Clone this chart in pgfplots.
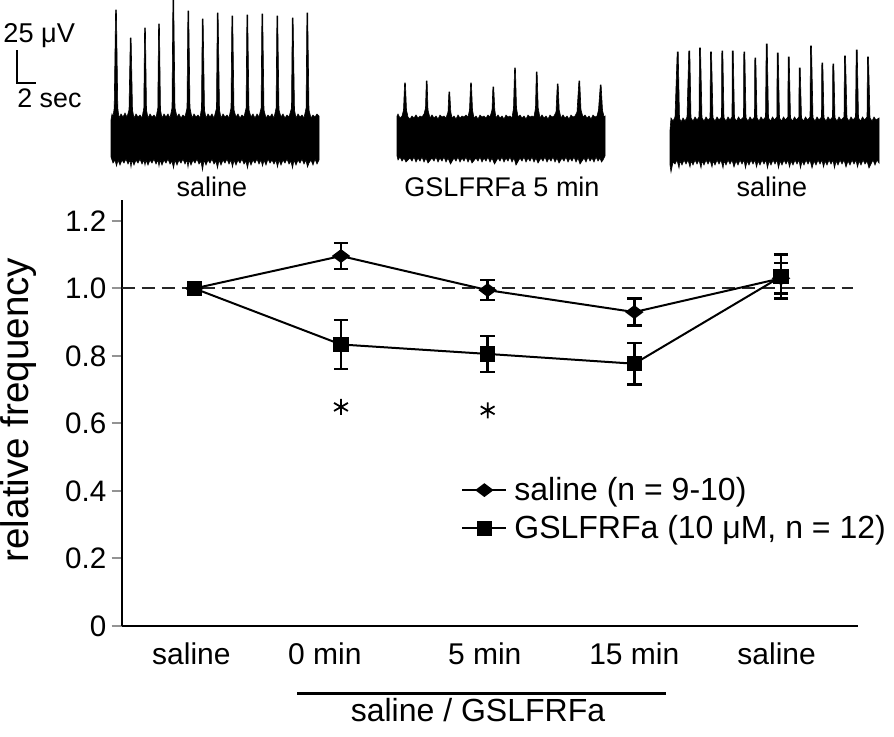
\documentclass[border=0pt]{standalone}
\usepackage{pgfplots}
\pgfplotsset{compat=1.18}
\usepackage{pgfplotstable}
\usepackage{fontspec}
\setmainfont{Liberation Sans}
\newcommand{\fs}[1]{\fontsize{#1}{#1}\selectfont}

\pgfplotstableread{
x y e
0 1.000 0
1 1.096 0.038
2 0.995 0.030
3 0.930 0.040
4 1.030 0.045
}\salinedata
\pgfplotstableread{
x y e
0 1.000 0
1 0.834 0.073
2 0.806 0.054
3 0.777 0.061
4 1.035 0.065
}\gsldata

\begin{document}
\begin{tikzpicture}
\path[use as bounding box] (0pt,0pt) rectangle (447pt,368pt);
\begin{axis}[
  at={(60.85pt,55pt)}, anchor=south west,
  scale only axis, width=368.15pt, height=213pt,
  xmin=-0.495, xmax=4.525, ymin=0, ymax=1.262,
  axis x line*=bottom, axis y line*=left,
  axis line style={line width=1pt,-},
  ytick pos=left,
  xtick={-0.02,0.89,1.98,3.0,3.97},
  xticklabels={saline,0 min,5 min,15 min,saline},
  x tick style={draw=none},
  ytick={0,0.2,0.4,0.6,0.8,1.0,1.2},
  yticklabels={0,0.2,0.4,0.6,0.8,1.0,1.2},
  y tick style={draw=gray!85, line width=1pt},
  tick align=outside, major tick length=5pt,
  /pgf/number format/assume math mode=true,
  yticklabel style={font=\fs{14.8}, xshift=0.8pt},
  xticklabel style={font=\fs{15}},
  ylabel={relative frequency},
  every axis y label/.style={at={(axis description cs:0,0.5)}, xshift=-51.5pt, yshift=1.5pt, rotate=90, anchor=center, inner sep=0pt, font=\fs{19.3}},
  clip=false,
  legend cell align=left,
  legend style={draw=none, fill=none, inner sep=0pt, font=\fs{16},
    at={(axis cs:1.818,0.346)}, anchor=west,
    nodes={inner sep=1pt}, row sep=4pt, column sep=2.5pt},
  legend image code/.code={\draw[mark repeat=2,mark phase=2] plot coordinates {(0pt,0pt) (11pt,0pt) (22pt,0pt)};},
]
\addplot[black!85, line width=1pt, dash pattern=on 6.5pt off 3.5pt, forget plot]
  coordinates {(-0.495,1) (4.49,1)};
\addplot[black, line width=1pt, mark=diamond*, mark size=3.8pt, mark options={rotate=90, solid},
  error bars/.cd, y dir=both, y explicit,
  error bar style={line width=1.2pt, black},
  error mark options={rotate=90, mark size=3.6pt, line width=1.2pt, black}]
  table[x=x, y=y, y error=e] {\salinedata};
\addlegendentry{saline (n = 9-10)}
\addplot[black, line width=1pt, mark=square*, mark size=3.3pt, mark options={solid},
  error bars/.cd, y dir=both, y explicit,
  error bar style={line width=1.2pt, black},
  error mark options={rotate=90, mark size=3.6pt, line width=1.2pt, black}]
  table[x=x, y=y, y error=e] {\gsldata};
\addlegendentry{GSLFRFa (10 μM, n = 12)}
\addplot[only marks, mark=asterisk, mark size=4pt, line width=0.9pt, black, forget plot]
  coordinates {(1,0.649) (2,0.639)};
\end{axis}

\begin{axis}[
  at={(0pt,0pt)}, anchor=south west,
  scale only axis, width=447pt, height=368pt,
  xmin=0, xmax=894, ymin=0, ymax=736, y dir=reverse,
  hide axis, clip=false]
% trace 1
\addplot[fill=black, draw=black, line width=0.3pt] coordinates {
(111,120) (112,114) (113,117) (114.2,108) (115.6,10) (116.4,10) (117.8,108) (119,118) (121,114) (123,117) (125,113) (127,117) (129,110)
(130.3,38) (131.1,38) (132.5,110) (134,118) (136,114) (138,117) (140,115) (142,118) (143.8,108)
(144.6,28) (145.4,28) (146.5,110) (148,118) (150,114) (152,117) (154,115) (156,118) (157.8,108)
(158.6,24) (159.4,24) (160.5,110) (162,118) (164,114) (166,117) (168,114) (170,118) (172,108)
(172.9,0) (173.7,0) (175,108) (177,117) (179,114) (181,118) (183,115) (185,117) (187,108)
(187.9,11) (188.7,11) (190,108) (192,118) (194,114) (196,117) (198,115) (200,118) (201.5,108)
(202.3,19) (203.1,19) (204.5,110) (206,118) (208,114) (210,117) (212,114) (214,118) (216.5,108)
(217.3,13) (218.1,13) (219.5,110) (221,118) (223,114) (225,117) (227,115) (229,118) (231,108)
(231.9,16) (232.7,16) (234,110) (236,117) (238,114) (240,118) (242,115) (244,117) (246.1,108)
(246.9,15) (247.7,15) (249,110) (251,117) (253,114) (255,118) (257,114) (259,117) (261.1,108)
(261.9,14) (262.7,14) (264,110) (266,118) (268,115) (270,117) (272,114) (274,118) (276.1,108)
(276.9,16) (277.7,16) (279,110) (281,117) (283,114) (285,118) (287,115) (289,117) (291.5,108)
(292.3,18) (293.1,18) (294.5,110) (296,118) (298,114) (300,117) (302,115) (304,118) (306.1,108)
(306.9,13) (307.7,13) (309,110) (311,118) (313,115) (315,117) (317,114) (319,116)
(319,160) (317,164) (315,159) (313,165) (311,160) (309,163) (307.5,167) (306,160) (304,164) (302,159) (300,163) (298,160) (296,165) (294,160)
(292.5,168) (291,161) (289,164) (287,159) (285,163) (283,160) (281,165) (279,160)
(277.5,167) (276,160) (274,164) (272,160) (270,163) (268,159) (266,165) (264,160)
(262.5,166) (261,160) (259,164) (257,159) (255,163) (253,160) (251,165) (249,160)
(247.5,168) (246,161) (244,164) (242,159) (240,163) (238,160) (236,165) (234,160)
(232.5,167) (231,160) (229,164) (227,159) (225,163) (223,160) (221,165) (219,160)
(217.5,168) (216,161) (214,164) (212,159) (210,163) (208,160) (206,165) (204,160)
(202.5,170) (201,161) (199,164) (197,159) (195,163) (193,160) (191,165) (189,160)
(188,167) (187,160) (185,164) (183,159) (181,163) (179,160) (177,165) (175,160)
(173.5,168) (172,161) (170,164) (168,159) (166,163) (164,160) (162,165) (160,160)
(159,166) (158,160) (156,164) (154,159) (152,163) (150,160) (148,165) (146,160)
(145,165) (144,160) (142,164) (140,159) (138,163) (136,160) (134,165) (132,160)
(131,167) (130,160) (128,164) (126,159) (124,163) (122,160) (120,165) (118,160)
(116.5,166) (115,160) (113,163) (111,157)
} -- cycle;
% trace 2
\addplot[fill=black, draw=black, line width=0.3pt] coordinates {
(397,116) (398,114) (400,118) (402,116) (403.5,110) (404.6,83) (405.4,83) (406.5,110) (408,117) (410,119) (412,116) (414,118) (416,115) (418,118) (420,116) (422,117) (424,114)
(425.5,108) (426.3,81) (427.1,81) (428,110) (430,118) (432,115) (434,118) (436,116) (438,119) (440,115) (442,117) (444,116) (446,118)
(448,112) (448.9,92) (449.7,92) (450.8,112) (452,118) (454,116) (456,119) (458,115) (460,118) (462,116) (464,117) (466,115) (468,117)
(469.5,110) (470.6,83) (471.4,83) (472.5,110) (474,118) (476,116) (478,119) (480,115) (482,117) (484,116) (486,118) (488,115) (490,117)
(492,110) (492.9,87) (493.7,87) (494.8,110) (496,118) (498,115) (500,118) (502,116) (504,119) (506,115) (508,117) (510,116) (512,118)
(513.5,108) (514.6,68) (515.4,68) (516.5,108) (518,117) (520,115) (522,118) (524,116) (526,119) (528,115) (530,117) (532,116) (534,117)
(535.5,108) (536.3,72) (537.1,72) (538.2,108) (540,118) (542,115) (544,118) (546,116) (548,119) (550,115) (552,117) (554,116)
(556,112) (557.3,84) (558.1,84) (559.2,110) (561,118) (563,115) (565,118) (567,116) (569,119) (571,115) (573,117) (575,116)
(577,112) (578.9,81) (579.7,81) (581,110) (583,117) (585,115) (587,118) (589,116) (591,119) (593,115) (595,117) (597,116)
(598.5,110) (600.3,85) (601.1,85) (602.5,110) (604,117) (605,116)
(605,156) (603,160) (601.5,162) (600,158) (598,161) (596,157) (594,162) (592,158) (590,161) (588,157) (586,162) (584,158) (582,161)
(580,164) (578,158) (576,162) (574,157) (572,161) (570,158) (568,162) (566,157) (564,161) (562,158)
(559,163) (557,158) (555,162) (553,157) (551,161) (549,158) (547,162) (545,157) (543,161) (541,158)
(538,163) (536,158) (534,162) (532,157) (530,161) (528,158) (526,162) (524,157) (522,161) (520,158)
(516,165) (514,158) (512,162) (510,157) (508,161) (506,158) (504,162) (502,157) (500,161) (498,158)
(494.5,164) (492,158) (490,162) (488,157) (486,161) (484,158) (482,162) (480,157) (478,161) (476,158)
(472,163) (470,158) (468,162) (466,157) (464,161) (462,158) (460,162) (458,157) (456,161) (454,158)
(450.5,164) (448,158) (446,162) (444,157) (442,161) (440,158) (438,162) (436,157) (434,161) (432,158)
(428,163) (426,158) (424,162) (422,157) (420,161) (418,158) (416,162) (414,157) (412,161) (410,158)
(406,162) (404,158) (402,161) (400,157) (398,160) (397,156)
} -- cycle;
% trace 3
\addplot[fill=black, draw=black, line width=0.3pt] coordinates {
(670,130) (671,118) (673,121) (675,117) (677.2,52) (678.2,52) (679.5,118) (681,122) (683,118) (685,121) (687,117)
(688.8,51) (689.8,51) (691,118) (693,121) (695,117) (697,120) (699,117)
(699.5,48) (700.5,48) (702,118) (704,121) (706,117) (708,120) (710,118)
(710.5,52) (711.5,52) (713,118) (715,121) (717,117) (719,120) (721.5,117)
(721.8,51) (722.8,51) (724,118) (726,121) (728,117) (730,120) (732,117)
(732.2,51) (733.2,51) (734.5,118) (736.5,121) (738.5,117) (740.5,120) (743.5,117)
(743.8,52) (744.8,52) (746,118) (748,121) (750,117) (752,120) (754.5,117)
(754.8,58) (755.8,58) (757,118) (759,121) (761,117) (763,120) (765.5,117)
(766.2,44) (767.2,44) (768.5,118) (770.5,121) (772.5,117) (774.5,120) (776.8,117)
(777.2,53) (778.2,53) (779.5,118) (781.5,121) (783.5,117) (785.5,120) (787.8,117)
(788.2,57) (789.2,57) (790.5,118) (792.5,121) (794.5,117) (796.5,120) (798.8,117)
(799.2,68) (800.2,68) (801.5,118) (803.5,121) (805.5,117) (807.5,120) (810,117)
(810.5,46) (811.5,46) (813,118) (815,121) (817,117) (819,120) (821.5,117)
(821.8,63) (822.8,63) (824,118) (826,121) (828,117) (830,120) (832.5,117)
(832.8,64) (833.8,64) (835,118) (837,121) (839,117) (841,120) (844,117)
(844.5,56) (845.5,56) (847,118) (849,121) (851,117) (853,120) (855.5,117)
(856.2,50) (857.2,50) (858.5,118) (860.5,121) (862.5,117) (864.5,120) (867,117)
(867.5,57) (868.5,57) (870,118) (872,121) (874,117) (876,120) (879,118)
(879,163) (877,160) (875,165) (873,160) (871,164) (869,168) (867,161) (865,164) (863,160) (861,165) (859,161)
(857.5,167) (856,160) (854,164) (852,160) (850,165) (848,161) (846,167) (844,160) (842,164) (840,160) (838,165) (836,161)
(834.5,168) (833,160) (831,164) (829,160) (827,165) (825,161) (823.5,167) (822,160) (820,164) (818,160) (816,165) (814,161)
(812,168) (810,160) (808,164) (806,160) (804,165) (802,161) (800.5,168) (799,160) (797,164) (795,160) (793,165) (791,161)
(789.5,167) (788,160) (786,164) (784,160) (782,165) (780,161) (778.5,168) (777,160) (775,164) (773,160) (771,165) (769,161)
(767.5,168) (766,160) (764,164) (762,160) (760,165) (758,161) (756.5,167) (755,160) (753,164) (751,160) (749,165) (747,161)
(745.5,168) (744,160) (742,164) (740,160) (738,165) (736,161) (734,167) (732,160) (730,164) (728,160) (726,165) (724,161)
(723,168) (721,160) (719,164) (717,160) (715,165) (713,161) (712,167) (710,160) (708,164) (706,160) (704,165) (702,161)
(701,168) (699,160) (697,164) (695,160) (693,165) (691,161) (690,167) (688,160) (686,164) (684,160) (682,165) (680,161)
(679,168) (677,160) (675,164) (673,162) (671,172) (670,165)
} -- cycle;
% scale bar
\addplot[black, line width=1pt] coordinates {(17,50) (17,83) (36,83)};
% treatment bar
\addplot[black, line width=1.5pt] coordinates {(297,693) (666,693)};
\node[anchor=base west, font=\fs{13.6}, inner sep=0pt] at (axis cs:3,42) {25 μV};
\node[anchor=base west, font=\fs{13.4}, inner sep=0pt] at (axis cs:17,107) {2 sec};
\node[anchor=base, font=\fs{13.5}, inner sep=0pt] at (axis cs:212,196) {saline};
\node[anchor=base, font=\fs{13.5}, inner sep=0pt] at (axis cs:502,196) {GSLFRFa 5 min};
\node[anchor=base, font=\fs{13.5}, inner sep=0pt] at (axis cs:772,196) {saline};
\node[anchor=base, font=\fs{16}, inner sep=0pt] at (axis cs:478,721) {saline / GSLFRFa};
\end{axis}
\end{tikzpicture}
\end{document}
